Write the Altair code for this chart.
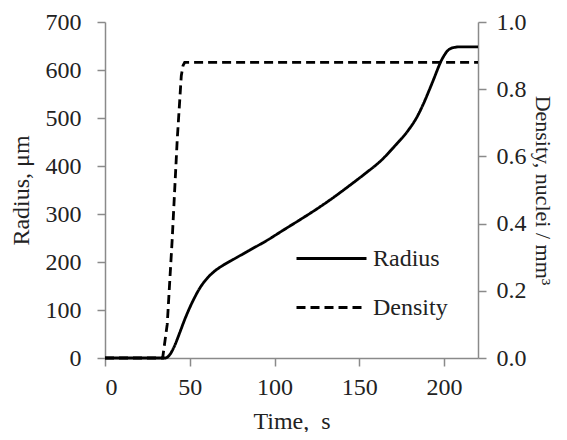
import altair as alt
import pandas as pd

# Radius curve (time s -> radius um)
radius_t = [0, 20, 34, 35.5, 38, 41, 44, 47, 50, 53, 56, 60, 64, 70, 76, 85, 96, 105, 115, 123, 133, 143, 153, 163, 171, 179, 184, 188, 191, 194, 196, 198, 200, 202, 204, 206, 208, 212, 220]
radius_v = [0, 0, 0, 0, 6, 25, 52, 80, 105, 127, 146, 165, 179, 194, 206, 224, 246, 266, 288, 306, 330, 356, 383, 412, 442, 475, 502, 531, 556, 582, 600, 617, 630, 640, 645, 647, 648, 648, 648]

# Density curve (time s -> nuclei/mm3)
density_t = [0, 20, 34, 36.7, 39.6, 42.6, 45, 46, 47, 60, 100, 150, 200, 220]
density_v = [0, 0, 0, 0.10, 0.35, 0.65, 0.84, 0.87, 0.88, 0.88, 0.88, 0.88, 0.88, 0.88]

series_names = ["Radius", "Density"]

FONT = "Liberation Serif"
FS = 24
AXIS_COL = "#8a8a8a"
TXT = "#222222"

rad_df = pd.DataFrame({"t": radius_t, "v": radius_v, "series": "Radius"})
den_df = pd.DataFrame({"t": density_t, "v": density_v, "series": "Density"})

dash_scale = alt.Scale(domain=series_names, range=[[1, 0], [9, 5]])
legend = alt.Legend(
    title=None, orient="none", legendX=190, legendY=200,
    symbolType="stroke", symbolSize=4900, symbolStrokeWidth=3,
    symbolStrokeColor="black", labelFont=FONT, labelFontSize=FS,
    labelColor=TXT, labelOffset=5, padding=0, rowPadding=-24,
)

xax = alt.X("t:Q", scale=alt.Scale(domain=[0, 220], nice=False),
            axis=alt.Axis(title="Time,\u00a0 s", values=[0, 50, 100, 150, 200],
                          tickSize=8, labelPadding=9, titlePadding=10))

rad = alt.Chart(rad_df).mark_line(color="black", strokeWidth=2.8, interpolate="monotone").encode(
    x=xax,
    y=alt.Y("v:Q", scale=alt.Scale(domain=[0, 700], nice=False),
            axis=alt.Axis(title="Radius, μm", values=[0, 100, 200, 300, 400, 500, 600, 700],
                          tickSize=8, labelPadding=16, titlePadding=12, orient="left")),
    strokeDash=alt.StrokeDash("series:N", scale=dash_scale, legend=legend),
)

den = alt.Chart(den_df).mark_line(color="black", strokeWidth=2.8).encode(
    x=xax,
    y=alt.Y("v:Q", scale=alt.Scale(domain=[0, 1], nice=False),
            axis=alt.Axis(title="Density, nuclei / mm³", values=[0, 0.2, 0.4, 0.6, 0.8, 1.0],
                          format=".1f", tickSize=8, labelPadding=10, titlePadding=4,
                          titleFontSize=22, orient="right")),
    strokeDash=alt.StrokeDash("series:N", scale=dash_scale, legend=legend),
)

chart = alt.layer(rad, den).resolve_scale(y="independent").properties(
    width=373, height=336,
    autosize=alt.AutoSizeParams(type="none"),
    padding={"left": 97, "top": 14, "right": 81, "bottom": 74},
).configure_view(stroke=None).configure_axis(
    grid=False, domainColor=AXIS_COL, tickColor=AXIS_COL, domainWidth=1.5, tickWidth=1.5,
    labelFont=FONT, titleFont=FONT, labelFontSize=FS, titleFontSize=FS,
    labelColor=TXT, titleColor=TXT, titleFontWeight="normal",
)

chart.save("out.html", embed_options={"renderer": "svg", "actions": False})
